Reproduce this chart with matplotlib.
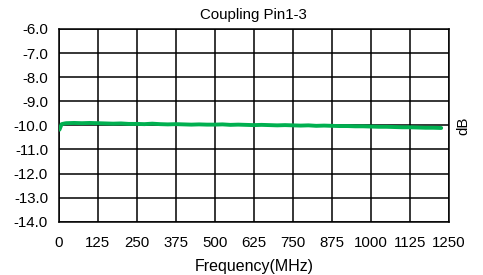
import matplotlib
matplotlib.use("Agg")
import matplotlib.pyplot as plt
from matplotlib.ticker import FormatStrFormatter

plt.rcParams['font.family'] = ['Liberation Sans', 'DejaVu Sans']

freq_mhz = [3, 10, 20, 25, 50, 75, 100, 125, 150, 175, 200, 225, 250, 275, 300,
            325, 350, 375, 400, 425, 450, 475, 500, 525, 550, 575, 600, 625, 650,
            675, 700, 725, 750, 775, 800, 825, 850, 875, 900, 925, 950, 975, 1000,
            1025, 1050, 1075, 1100, 1125, 1150, 1175, 1200, 1225]
coupling_db = [-10.18, -9.95, -9.92, -9.91, -9.90, -9.91, -9.90, -9.91, -9.92, -9.93,
               -9.92, -9.94, -9.94, -9.95, -9.93, -9.95, -9.96, -9.95, -9.96, -9.97,
               -9.96, -9.97, -9.97, -9.96, -9.98, -9.97, -9.98, -9.99, -9.98, -9.99,
               -10.00, -9.99, -10.00, -10.01, -10.00, -10.02, -10.01, -10.02, -10.03,
               -10.03, -10.04, -10.04, -10.05, -10.06, -10.06, -10.07, -10.08, -10.08,
               -10.09, -10.10, -10.10, -10.11]
x_ticks = [0, 125, 250, 375, 500, 625, 750, 875, 1000, 1125, 1250]
y_ticks = [-14, -13, -12, -11, -10, -9, -8, -7, -6]

fig = plt.figure(figsize=(4.83, 2.75), dpi=100)
ax = fig.add_axes([58.5/483, 1-221.7/275, (449-58.5)/483, (221.7-29)/275])

ax.plot(freq_mhz, coupling_db, color='#00b050', lw=2.8, zorder=3, solid_capstyle='round')

ax.set_xlim(0, 1250)
ax.set_ylim(-14, -6)
ax.set_xticks(x_ticks)
ax.set_yticks(y_ticks)
ax.yaxis.set_major_formatter(FormatStrFormatter('%.1f'))
ax.grid(True, color='black', lw=1.1)
for s in ax.spines.values():
    s.set_color('black')
    s.set_linewidth(1.1)
ax.tick_params(length=0, labelsize=10.8, colors='black')
ax.tick_params(axis='x', pad=10.5)
ax.tick_params(axis='y', pad=7.5)

ax.set_title('Coupling Pin1-3', fontsize=10.8, pad=7)
ax.set_xlabel('Frequency(MHz)', fontsize=11.5, labelpad=6)
ax.yaxis.set_label_position('right')
ax.set_ylabel('dB', fontsize=10.8, rotation=90, labelpad=5)

fig.savefig('out.png', dpi=100)
